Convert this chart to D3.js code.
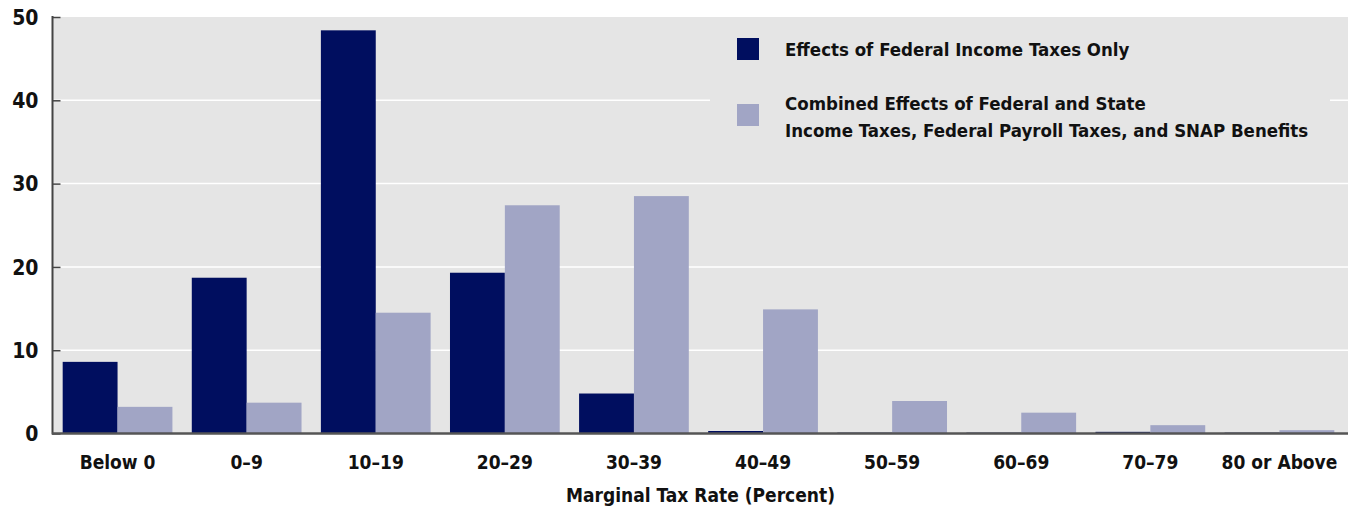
<!DOCTYPE html>
<html>
<head>
<meta charset="utf-8">
<script src="https://cdn.jsdelivr.net/npm/d3@7"></script>
<style>
  body { margin: 0; background: #fff; overflow: hidden; }
  svg text { font-family: "Liberation Sans Narrow", "DejaVu Sans Condensed", "Arial Narrow", sans-serif; font-weight: bold; fill: #111; }
</style>
</head>
<body>
<div class="chart"></div>
<script>
// data
const categories = ["Below 0", "0\u20139", "10\u201319", "20\u201329", "30\u201339", "40\u201349", "50\u201359", "60\u201369", "70\u201379", "80 or Above"];
const federalOnly = [8.6, 18.7, 48.4, 19.3, 4.8, 0.3, 0.1, 0.1, 0.2, 0.1];
const combined = [3.2, 3.7, 14.5, 27.4, 28.5, 14.9, 3.9, 2.5, 1.0, 0.4];
const seriesNames = ["Effects of Federal Income Taxes Only",
  ["Combined Effects of Federal and State", "Income Taxes, Federal Payroll Taxes, and SNAP Benefits"]];
const yTicks = [0, 10, 20, 30, 40, 50];

const width = 1348, height = 508;
const margin = { top: 17, right: 4, bottom: 74, left: 53 };
const colors = ["#000e5f", "#a1a5c5"];

const svg = d3.select(".chart").append("svg")
  .attr("width", width)
  .attr("height", height);

const x = d3.scaleBand()
  .domain(categories)
  .range([margin.left, width - margin.right])
  .paddingInner(0.15)
  .paddingOuter(0.075);

const xSub = d3.scaleBand()
  .domain([0, 1])
  .range([0, x.bandwidth()]);

const y = d3.scaleLinear()
  .domain([0, 50])
  .range([height - margin.bottom - 0.5, margin.top]);

// plot background
svg.append("rect")
  .attr("x", margin.left)
  .attr("y", y(50))
  .attr("width", width - margin.left)
  .attr("height", y(0) - y(50))
  .attr("fill", "#e5e5e5");

// gridlines
svg.append("g")
  .selectAll("line")
  .data(yTicks.filter(d => d > 0 && d < 50))
  .enter()
  .append("line")
  .attr("x1", margin.left)
  .attr("x2", width)
  .attr("y1", d => y(d))
  .attr("y2", d => y(d))
  .attr("stroke", "#fff")
  .attr("stroke-width", 1.5);

// legend box hides the gridline behind it
svg.append("rect")
  .attr("x", 710)
  .attr("y", 25)
  .attr("width", 620)
  .attr("height", 125)
  .attr("fill", "#e5e5e5");

// bars
const rows = categories.map((c, i) => ({ cat: c, values: [federalOnly[i], combined[i]] }));

const group = svg.selectAll(".group")
  .data(rows)
  .enter()
  .append("g")
  .attr("class", "group")
  .attr("transform", d => "translate(" + x(d.cat) + ",0)");

group.selectAll("rect")
  .data(d => d.values.map((v, k) => ({ k: k, v: v })))
  .enter()
  .append("rect")
  .attr("x", d => xSub(d.k))
  .attr("y", d => y(d.v))
  .attr("width", xSub.bandwidth())
  .attr("height", d => y(0) - y(d.v))
  .attr("fill", d => colors[d.k]);

// y axis
const yAxis = d3.axisLeft(y).tickValues(yTicks).tickSize(-8).tickPadding(14).tickFormat(d3.format("d"));
svg.append("g")
  .attr("transform", "translate(" + (margin.left - 0.5) + ",0)")
  .call(yAxis)
  .call(g => g.select(".domain").attr("stroke", "#444").attr("stroke-width", 2).attr("d", "M0," + (y(50) - 1) + "V" + (y(0) + 1)))
  .call(g => g.selectAll(".tick line").attr("stroke", "#444").attr("stroke-width", 1.5))
  .call(g => g.selectAll(".tick text").attr("font-size", 21).attr("dy", "0.35em").style("fill", "#111"));

// x axis
const xAxis = d3.axisBottom(x).tickSize(0).tickPadding(22);
svg.append("g")
  .attr("transform", "translate(0," + y(0) + ")")
  .call(xAxis)
  .call(g => g.select(".domain").attr("stroke", "#555").attr("stroke-width", 2.5).attr("d", "M" + (margin.left - 1) + ",0H" + width))
  .call(g => g.selectAll(".tick text").attr("font-size", 19).style("fill", "#111"));

svg.append("text")
  .attr("x", (margin.left + width) / 2)
  .attr("y", 502)
  .attr("text-anchor", "middle")
  .attr("font-size", 19)
  .text("Marginal Tax Rate (Percent)");

// legend
const legend = svg.append("g").attr("transform", "translate(737,0)");
legend.append("rect").attr("x", 0).attr("y", 38).attr("width", 22).attr("height", 22).attr("fill", colors[0]);
legend.append("text").attr("x", 48).attr("y", 56).attr("font-size", 18.5).text(seriesNames[0]);
legend.append("rect").attr("x", 0).attr("y", 104).attr("width", 22).attr("height", 22).attr("fill", colors[1]);
legend.append("text").attr("x", 48).attr("y", 110).attr("font-size", 18.5)
  .selectAll("tspan")
  .data(seriesNames[1])
  .enter()
  .append("tspan")
  .attr("x", 48)
  .attr("dy", (d, i) => i === 0 ? 0 : 27)
  .text(d => d);
</script>
</body>
</html>
